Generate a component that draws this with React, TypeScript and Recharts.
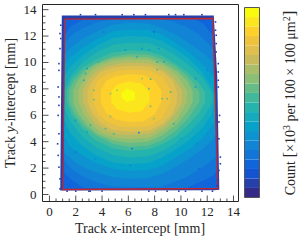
import { Area, ComposedChart, Line, Scatter, XAxis, YAxis } from 'recharts'

const FONT = '"Liberation Serif", serif'
const INK = '#262626'

const mmTicks = [
  0, 0.5, 1, 1.5, 2, 2.5, 3, 3.5, 4, 4.5, 5, 5.5, 6, 6.5, 7, 7.5, 8, 8.5, 9, 9.5, 10, 10.5, 11, 11.5, 12, 12.5, 13, 13.5, 14,
]
const countTicks = [0, 1, 2, 3, 4, 5, 6, 7, 8, 9, 10]

const bandColors = [
  '#352a87', '#253fab', '#1554d0', '#1065db', '#1276d8', '#1284d5', '#0d93cf', '#07a2ca', '#15abbc', '#24b3ad',
  '#41b99a', '#66bc87', '#8bbf75', '#aabd69', '#c9bb5c', '#dfbf4d', '#efc43c', '#fdd02c', '#fbe61d', '#f9fb0e',
]
const bandEdges = [
  -0.55, 0, 0.54, 1.09, 1.63, 2.18, 2.73, 3.27, 3.82, 4.36, 4.91, 5.46, 6, 6.55, 7.09, 7.64, 8.19, 8.73, 9.28, 9.82, 10.37,
]

// acceptance window drawn in red
const outline = [
  { x: 1.16, y: 13.28 },
  { x: 12.43, y: 13.33 },
  { x: 12.81, y: 0.455 },
  { x: 1.01, y: 0.38 },
  { x: 1.16, y: 13.28 },
]

// iso-count regions: [x, y low, y high]
const rim = [[0.82, 0.3, 0.3], [0.94, 0.3, 13.55], [12.5, 0.32, 13.55], [12.76, 0.34, 9.0], [12.92, 0.36, 0.36]]
const band3 = [[1.01, 0.38, 0.38], [1.16, 0.38, 13.28], [12.43, 0.45, 13.33], [12.81, 0.455, 0.455]]
const band4 = [[1.12, 1.7, 12.0], [1.6, 1.15, 12.75], [2.6, 0.5, 13.25], [10.4, 0.47, 13.3], [11, 0.75, 13.3], [11.7, 1.05, 12.95], [12.43, 1.4, 12.0], [12.55, 1.55, 9.3], [12.72, 1.8, 3.7]]
const band5 = [[1.12, 2.6, 11.4], [1.6, 2.0, 12.0], [2.5, 1.4, 12.6], [3.5, 0.95, 13.0], [4.8, 0.6, 13.25], [8.4, 0.55, 13.3], [9.4, 0.9, 13.1], [10.4, 1.3, 12.7], [11.4, 1.9, 12.1], [12.5, 2.7, 11.0], [12.62, 2.9, 7.0]]
const band6 = [[1.12, 3.2, 10.6], [1.6, 2.7, 11.1], [2.5, 2.1, 11.8], [3.5, 1.7, 12.3], [4.8, 1.3, 12.85], [6, 1.2, 13.0], [7.5, 1.25, 12.95], [8.6, 1.6, 12.6], [9.6, 2.1, 12.1], [10.6, 2.7, 11.5], [11.6, 3.4, 10.8], [12.5, 4.2, 10.0], [12.62, 4.5, 7.0]]
const band7 = [[1.12, 4.4, 9.8], [1.6, 3.6, 10.4], [2.5, 3.0, 11.1], [3.5, 2.4, 11.7], [4.8, 1.95, 12.35], [6, 1.8, 12.5], [7.5, 1.85, 12.45], [8.6, 2.2, 12.1], [9.6, 2.8, 11.5], [10.6, 3.4, 10.8], [11.6, 4.2, 9.9], [12.5, 5.4, 8.9], [12.6, 6.0, 7.8]]
const band8 = [[1.12, 5.6, 8.9], [1.6, 4.6, 9.7], [2.5, 3.7, 10.5], [3.5, 3.0, 11.2], [4.8, 2.45, 11.85], [6, 2.3, 12.0], [7.5, 2.4, 11.95], [8.6, 2.8, 11.6], [9.6, 3.4, 11.0], [10.6, 4.1, 10.3], [11.6, 5.0, 9.3], [12.3, 6.0, 8.2], [12.55, 7.0, 7.5]]
const band9 = [[1.12, 6.6, 7.9], [1.6, 5.5, 9.0], [2.5, 4.4, 10.0], [3.5, 3.6, 10.7], [4.8, 3.0, 11.35], [6, 2.8, 11.5], [7.5, 2.9, 11.45], [8.6, 3.3, 11.1], [9.6, 3.9, 10.5], [10.6, 4.7, 9.8], [11.6, 5.7, 8.9], [12.4, 7.0, 7.7]]
const band10 = [[1.3, 7.0, 7.9], [1.7, 6.0, 8.8], [2.5, 5.0, 9.6], [3.5, 4.1, 10.2], [4.8, 3.5, 10.75], [6, 3.3, 10.9], [7.5, 3.4, 10.85], [8.6, 3.8, 10.5], [9.6, 4.4, 9.9], [10.6, 5.3, 9.2], [11.4, 6.2, 8.4], [11.85, 7.0, 7.7]]
const band11 = [[1.5, 7.0, 7.9], [1.9, 6.1, 8.7], [2.6, 5.2, 9.4], [3.5, 4.5, 9.95], [4.8, 3.85, 10.45], [6, 3.6, 10.65], [7.5, 3.7, 10.6], [8.6, 4.1, 10.25], [9.6, 4.8, 9.7], [10.5, 5.7, 8.95], [11.4, 7.0, 7.8]]
const band12 = [[1.8, 7, 7.9], [2.2, 6.1, 8.7], [2.8, 5.3, 9.4], [3.6, 4.6, 9.9], [4.8, 4.1, 10.3], [6, 3.9, 10.45], [7.5, 4, 10.4], [8.6, 4.5, 10.0], [9.7, 5.3, 9.35], [10.5, 6.3, 8.6], [10.9, 7, 7.8]]
const band13 = [[2.2, 7, 7.9], [2.6, 6.1, 8.7], [3.2, 5.3, 9.4], [3.9, 4.7, 9.8], [5, 4.3, 10.15], [6, 4.2, 10.25], [7.6, 4.3, 10.2], [8.7, 4.9, 9.75], [9.7, 5.7, 9.05], [10.45, 7, 7.9]]
const band14 = [[2.55, 7, 7.9], [2.95, 6.1, 8.7], [3.5, 5.4, 9.3], [4.3, 4.8, 9.7], [5.2, 4.55, 9.9], [6, 4.5, 10], [7.6, 4.6, 9.95], [8.7, 5.2, 9.45], [9.5, 6, 8.8], [10.1, 7, 7.9]]
const band15 = [[2.9, 7, 7.9], [3.3, 6.1, 8.7], [3.9, 5.4, 9.3], [4.8, 4.9, 9.6], [6, 4.75, 9.75], [7.6, 4.85, 9.7], [8.7, 5.4, 9.25], [9.4, 6.2, 8.6], [9.7, 7, 7.8]]
const band16 = [[3.3, 7, 7.9], [3.7, 6.1, 8.7], [4.4, 5.5, 9.15], [5.3, 5.15, 9.4], [6.5, 5.1, 9.45], [7.7, 5.2, 9.35], [8.6, 5.8, 8.9], [9.2, 7, 7.9]]
const band17 = [[3.9, 7, 7.9], [4.3, 6.2, 8.6], [5, 5.7, 8.95], [6, 5.5, 9.1], [7.2, 5.55, 9.05], [8, 6.1, 8.6], [8.5, 7, 7.9]]
const band18 = [[4.7, 7, 7.8], [5.1, 6.5, 8.3], [6, 6.2, 8.55], [7, 6.3, 8.4], [7.6, 7, 7.8]]
const band19 = [[5.5, 7.3, 7.7], [5.9, 7.0, 8.0], [6.5, 7.2, 7.75]]

const regions = [
  { band: 1, pts: rim }, { band: 3, pts: band3 }, { band: 4, pts: band4 }, { band: 5, pts: band5 },
  { band: 6, pts: band6 }, { band: 7, pts: band7 }, { band: 8, pts: band8 }, { band: 9, pts: band9 },
  { band: 10, pts: band10 }, { band: 11, pts: band11 }, { band: 12, pts: band12 }, { band: 13, pts: band13 },
  { band: 14, pts: band14 }, { band: 15, pts: band15 }, { band: 16, pts: band16 }, { band: 17, pts: band17 },
  { band: 18, pts: band18 }, { band: 19, pts: band19 },
]

// low-count bins inside the map: [x, y, count]
const deadBins = [
  [5.78, 10.93, 3.0], [3.75, 10.04, 4.4], [2.87, 9.54, 3.8], [2.61, 8.65, 4.2], [2.74, 9.16, 4.0], [3.37, 7.89, 5.6],
  [5.15, 7.89, 7.0], [4.64, 7.64, 6.2], [4.13, 12.31, 1.9], [3.37, 7.18, 5.8], [7.94, 12.31, 1.4], [7.05, 11.05, 3.2],
  [8.32, 11.05, 3.0], [7.56, 10.93, 3.5], [6.67, 10.42, 4.2], [8.7, 10.04, 3.8], [8.2, 10.04, 4.0], [8.2, 9.46, 5.1],
  [7.69, 8.73, 5.2], [7.05, 8.78, 6.0], [7.56, 8.02, 5.6], [9.21, 7.76, 5.2], [11.1, 8.78, 2.8], [11.1, 8.14, 3.4],
  [12.0, 9.41, 2.3], [8.58, 7.26, 5.6], [8.96, 7.26, 5.8], [4.64, 5.92, 6.0], [1.98, 5.61, 3.2], [3.12, 5.24, 4.8],
  [2.87, 4.73, 3.8], [4.89, 4.6, 5.2], [4.26, 4.98, 5.0], [6.8, 4.68, 2.2], [6.29, 3.47, 1.8], [1.98, 3.21, 2.1],
  [6.16, 2.2, 2.3], [3.5, 2.73, 2.4], [7.69, 6.68, 5.6], [7.94, 5.74, 6.0], [9.46, 5.36, 4.6], [9.97, 4.23, 3.6],
  [11.36, 1.95, 1.3], [11.24, 3.85, 2.6],
]

// stray bins outside the window: [x, y]
const strayBins = [
  [0.86, 12.82], [0.8, 12.19], [0.86, 11.81], [0.8, 11.05], [0.72, 9.91], [0.72, 9.4], [0.66, 8.14], [0.72, 7.39],
  [0.72, 6.75], [0.66, 5.99], [0.72, 4.6], [0.62, 3.84], [0.66, 2.96], [0.72, 2.07], [0.8, 1.19], [0.8, 0.43],
  [12.63, 13.07], [12.63, 12.44], [12.68, 12.06], [12.68, 11.43], [12.68, 10.8], [12.84, 9.91], [12.84, 9.28], [12.84, 8.65], [12.84, 8.14],
  [12.94, 5.99], [12.89, 5.49], [12.89, 4.22], [13.0, 2.83], [13.0, 2.33], [12.89, 1.82], [12.84, 1.06], [12.76, 0.68],
  [7.3, 13.62], [9.08, 13.62], [9.59, 13.62], [10.22, 13.62], [11.6, 13.62], [2.36, 13.62], [3.5, 13.62], [5.53, 13.62], [6.42, 13.62],
  [7.56, 0.25], [8.07, 0.25], [8.95, 0.25], [9.84, 0.25], [10.35, 0.25], [11.6, 0.25], [12.4, 0.25],
  [1.34, 0.25], [2.0, 0.25], [3.0, 0.25], [3.1, 0.25], [4.0, 0.25],
]

const deadRows = deadBins.map(([x, y, count]) => ({ x, y, count }))
const strayRows = strayBins.map(([x, y]) => ({ x, y, count: 0.3 }))

function colorOf(count: number) {
  const i = bandEdges.findIndex((edge) => count < edge) - 1
  return bandColors[Math.max(0, i)]
}

function BinSquare(props: any) {
  const size = 1.6
  return (
    <rect
      x={props.cx - size / 2}
      y={props.cy - size / 2}
      width={size}
      height={size}
      fill={colorOf(props.payload.count)}
    />
  )
}

function xTick(side: 'top' | 'bottom') {
  return (props: any) => {
    const major = props.payload.value % 2 === 0
    const len = major ? 6 : 3
    const dir = side === 'bottom' ? -1 : 1
    return (
      <g>
        <line x1={props.x} x2={props.x} y1={props.y} y2={props.y + dir * len} stroke={INK} strokeWidth={0.8} />
        {side === 'bottom' && major && (
          <text x={props.x} y={props.y + 14} textAnchor="middle" fontFamily={FONT} fontSize={13} fill={INK}>
            {props.payload.value}
          </text>
        )}
      </g>
    )
  }
}

function yTick(side: 'left' | 'right') {
  return (props: any) => {
    const major = props.payload.value % 2 === 0
    const len = major ? 6 : 3
    const dir = side === 'left' ? 1 : -1
    return (
      <g>
        <line y1={props.y} y2={props.y} x1={props.x} x2={props.x + dir * len} stroke={INK} strokeWidth={0.8} />
        {side === 'left' && major && (
          <text x={props.x - 6} y={props.y + 4} textAnchor="end" fontFamily={FONT} fontSize={13} fill={INK}>
            {props.payload.value}
          </text>
        )}
      </g>
    )
  }
}

function countTick(props: any) {
  const major = props.payload.value % 2 === 0
  return (
    <g>
      <line y1={props.y} y2={props.y} x1={props.x} x2={props.x - (major ? 6 : 3)} stroke={INK} strokeWidth={0.8} />
      {major && (
        <text x={props.x + 5.5} y={props.y + 4} fontFamily={FONT} fontSize={13} fill={INK}>
          {props.payload.value}
        </text>
      )}
    </g>
  )
}

const frameAxis = {
  type: 'number' as const,
  interval: 0,
  tickSize: 0,
  tickMargin: 0,
  tickLine: false,
  axisLine: { stroke: INK, strokeWidth: 1 },
}

export default function App() {
  return (
    <div style={{ position: 'absolute', left: 0, top: 0, width: 307, height: 241, background: '#fff' }}>
      <div style={{ position: 'absolute', left: 0, top: 0 }}>
        <ComposedChart width={307} height={241} margin={{ left: 41.5, right: 67.5, top: 3.5, bottom: 38.5 }}>
          <XAxis {...frameAxis} dataKey="x" domain={[-0.53, 14.38]} ticks={mmTicks} height={1} tick={xTick('bottom')} />
          <XAxis {...frameAxis} xAxisId="top" orientation="top" domain={[-0.53, 14.38]} ticks={mmTicks} height={1} tick={xTick('top')} />
          <YAxis {...frameAxis} dataKey="y" domain={[-0.53, 14.39]} ticks={mmTicks} width={1} tick={yTick('left')} />
          <YAxis {...frameAxis} yAxisId="right" orientation="right" domain={[-0.53, 14.39]} ticks={mmTicks} width={1} tick={yTick('right')} />
          {regions.map(({ band, pts }) => (
            <Area
              key={band}
              data={pts.map(([x, lo, hi]) => ({ x, range: [lo, hi] }))}
              dataKey="range"
              type="linear"
              fill={bandColors[band]}
              fillOpacity={1}
              stroke="none"
              dot={false}
              activeDot={false}
              isAnimationActive={false}
            />
          ))}
          <Scatter data={strayRows} shape={BinSquare} isAnimationActive={false} />
          <Scatter data={deadRows} shape={BinSquare} isAnimationActive={false} />
          <Line
            data={outline}
            dataKey="y"
            type="linear"
            stroke="#c0272f"
            strokeWidth={1.3}
            dot={false}
            activeDot={false}
            isAnimationActive={false}
          />
          <text x={140} y={233} textAnchor="middle" fontFamily={FONT} fontSize={14} fill={INK}>
            Track <tspan fontStyle="italic">x</tspan>-intercept [mm]
          </text>
          <text transform="translate(15 103) rotate(-90)" textAnchor="middle" fontFamily={FONT} fontSize={14} fill={INK}>
            Track <tspan fontStyle="italic">y</tspan>-intercept [mm]
          </text>
        </ComposedChart>
      </div>
      <div style={{ position: 'absolute', left: 0, top: 0 }}>
        <ComposedChart width={307} height={241} margin={{ left: 243.5, right: 46.5, top: 6.5, bottom: 42.5 }}>
          <XAxis {...frameAxis} dataKey="x" domain={[0, 1]} ticks={[]} height={1} axisLine={{ stroke: '#555' }} />
          <XAxis {...frameAxis} xAxisId="top" orientation="top" domain={[0, 1]} ticks={[]} height={1} axisLine={{ stroke: '#555' }} />
          <YAxis {...frameAxis} domain={[-0.55, 10.37]} ticks={[]} width={1} axisLine={{ stroke: '#555' }} />
          <YAxis
            {...frameAxis}
            yAxisId="right"
            orientation="right"
            domain={[-0.55, 10.37]}
            ticks={countTicks}
            width={1}
            axisLine={{ stroke: '#555' }}
            tick={countTick}
          />
          {bandColors.map((color, i) => (
            <Area
              key={color}
              data={[
                { x: 0, range: [bandEdges[i], bandEdges[i + 1]] },
                { x: 1, range: [bandEdges[i], bandEdges[i + 1]] },
              ]}
              dataKey="range"
              type="linear"
              fill={color}
              fillOpacity={1}
              stroke="none"
              dot={false}
              activeDot={false}
              isAnimationActive={false}
            />
          ))}
          <text transform="translate(295 103) rotate(-90)" textAnchor="middle" fontFamily={FONT} fontSize={14} fill={INK}>
            Count <tspan fontSize={17}>[</tspan>×10
            <tspan dy={-5} fontSize={10}>3</tspan>
            <tspan dy={5}> per 100 × 100 μm</tspan>
            <tspan dy={-5} fontSize={10}>2</tspan>
            <tspan dy={5} fontSize={17}>]</tspan>
          </text>
        </ComposedChart>
      </div>
    </div>
  )
}
